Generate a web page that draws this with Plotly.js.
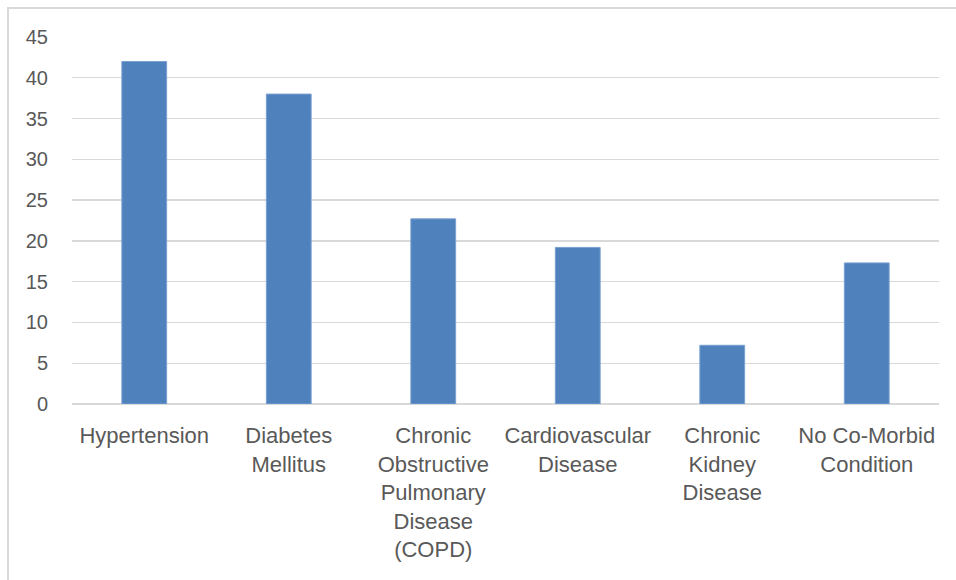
<!DOCTYPE html>
<html>
<head>
<meta charset="utf-8">
<script src="https://cdn.plot.ly/plotly-3.0.1.min.js"></script>
<style>
  html, body { margin:0; padding:0; background:#fff; }
  #frame { position:absolute; left:7px; top:7px; width:960px; height:600px; border-top:2px solid #d9d9d9; border-left:2px solid #d9d9d9; }
  #chart { position:absolute; left:0; top:0; width:956px; height:580px; }
</style>
</head>
<body>
<div id="frame"></div>
<div id="chart"></div>
<script>
const categories = [
  "Hypertension",
  "Diabetes<br>Mellitus",
  "Chronic<br>Obstructive<br>Pulmonary<br>Disease<br>(COPD)",
  "Cardiovascular<br>Disease",
  "Chronic<br>Kidney<br>Disease",
  "No Co-Morbid<br>Condition"
];
const values = [42, 38, 22.7, 19.2, 7.2, 17.3];
const yTickValues = [0, 5, 10, 15, 20, 25, 30, 35, 40, 45];

const trace = {
  type: 'bar',
  x: categories,
  y: values,
  marker: { color: '#4f81bd', line: { color: '#7aa0d0', width: 1 } },
  hoverinfo: 'x+y'
};

const layout = {
  width: 956,
  height: 580,
  paper_bgcolor: 'rgba(0,0,0,0)',
  plot_bgcolor: 'rgba(0,0,0,0)',
  margin: { l: 72, r: 17, t: 37, b: 175.5 },
  bargap: 0.69,
  showlegend: false,
  font: { family: '"Liberation Sans", Arial, sans-serif', color: '#595959' },
  xaxis: {
    type: 'category',
    tickfont: { size: 22, color: '#595959' },
    ticks: '',
    showgrid: false,
    showline: false,
    tickangle: 0,
    automargin: false,
    ticklabelstandoff: 16
  },
  yaxis: {
    range: [0, 45],
    tickvals: yTickValues,
    ticktext: yTickValues.map(String),
    tickfont: { size: 20, color: '#595959' },
    showgrid: true,
    gridcolor: '#d9d9d9',
    gridwidth: 1.3,
    zeroline: true,
    zerolinecolor: '#d9d9d9',
    zerolinewidth: 1.5,
    showline: false,
    ticks: '',
    automargin: false,
    ticklabelstandoff: 23
  }
};

Plotly.newPlot('chart', [trace], layout, { displayModeBar: false, staticPlot: true });
</script>
</body>
</html>
